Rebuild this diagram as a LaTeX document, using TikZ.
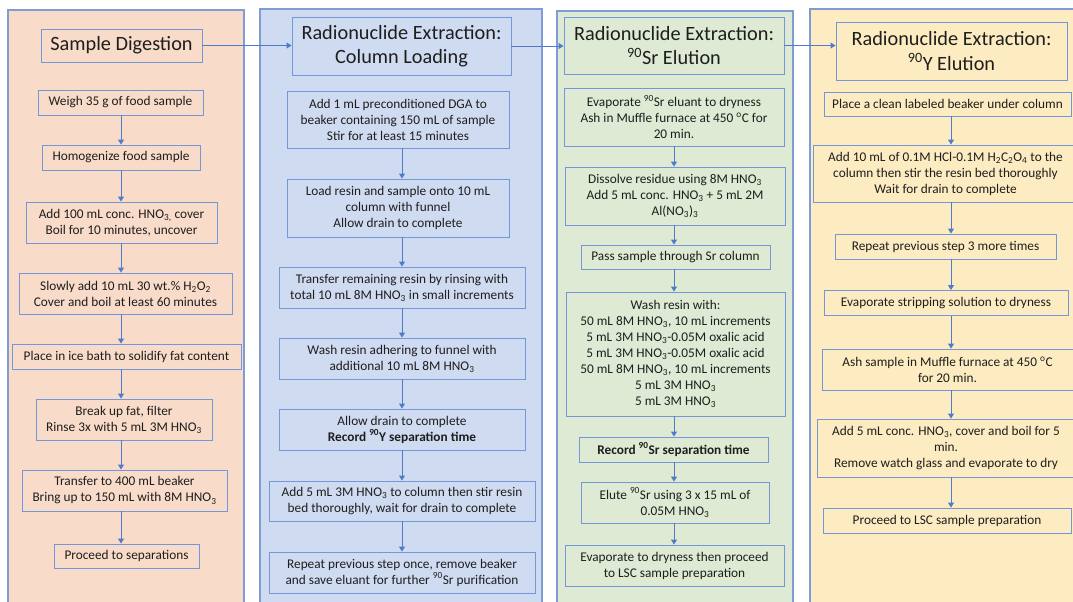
\documentclass[tikz,border=0pt]{standalone}
\usepackage{fontspec}
\setmainfont{Carlito}
\usepackage{tikz}
\usetikzlibrary{arrows.meta}

\definecolor{peach}{HTML}{F9DBC9}
\definecolor{lavender}{HTML}{CFDBF0}
\definecolor{sage}{HTML}{DEEAD3}
\definecolor{cream}{HTML}{FDECC1}
\definecolor{laneline}{HTML}{7F9CD4}
\definecolor{boxline}{HTML}{7397D8}
\definecolor{arrowline}{HTML}{4F7BCB}
\definecolor{ink}{HTML}{1E1E1E}

\tikzset{sz/.style 2 args={minimum width=#1pt, minimum height=#2pt}}

\newcommand{\HNO}{HNO\textsubscript{3}}
\newcommand{\degC}{\textsuperscript{o}C}

\begin{document}
\begin{tikzpicture}[
    x=1pt, y=-1pt,
    lane/.style={draw=laneline, line width=1.3pt},
    box/.style={draw=boxline, line width=0.9pt, align=center, inner sep=1pt,
        text=ink, font=\fontsize{13.3}{16}\selectfont},
    head/.style={box, font=\fontsize{20.3}{24.5}\selectfont},
    flow/.style={draw=arrowline, line width=0.9pt, -{Triangle[length=5pt,width=6pt]}}
]
\useasboundingbox (0,0) rectangle (1073,602);
\clip (0,0) rectangle (1073,602);

% lanes
\filldraw[lane, fill=peach] (8,10) rectangle (244,615);
\filldraw[lane, fill=lavender] (260,9) rectangle (542,615);
\filldraw[lane, fill=sage] (557,11) rectangle (793,615);
\filldraw[lane, fill=cream] (810,9) rectangle (1085,615);

% arrow axes
\coordinate (ax1) at (121,0);
\coordinate (ax2) at (402,0);
\coordinate (ax3) at (674,0);
\coordinate (ax4) at (951,0);

% sample digestion
\node[head, sz={161}{33}] (dig) at (121.5,45.5) {Sample Digestion};
\node[box, sz={165}{25}] (weigh) at (120.5,102.5) {Weigh 35 g of food sample};
\node[box, sz={158}{25}] (homog) at (121,157.5) {Homogenize food sample};
\node[box, sz={191}{41}] (acid) at (121.5,222.5) {Add 100 mL conc. HNO\textsubscript{3,} cover\\Boil for 10 minutes, uncover};
\node[box, sz={213}{41}] (perox) at (125.5,293.5) {Slowly add 10 mL 30 wt.\% H\textsubscript{2}O\textsubscript{2}\\Cover and boil at least 60 minutes};
\node[box, sz={229}{25}] (ice) at (126.5,356.5) {Place in ice bath to solidify fat content};
\node[box, sz={176}{41}] (fat) at (124,419.5) {Break up fat, filter\\Rinse 3x with 5 mL 3M \HNO};
\node[box, sz={205}{41}] (xfer) at (124.5,490.5) {Transfer to 400 mL beaker\\Bring up to 150 mL with 8M \HNO};
\node[box, sz={145}{24}] (sep) at (126.5,556) {Proceed to separations};

% column loading
\node[head, sz={219}{58}] (load) at (401.5,46) {Radionuclide Extraction:\\Column Loading};
\node[box, sz={222}{57}] (dga) at (398,119.5) {Add 1 mL preconditioned DGA to\\beaker containing 150 mL of sample\\Stir for at least 15 minutes};
\node[box, sz={222}{58}] (onto) at (398,208) {Load resin and sample onto 10 mL\\column with funnel\\Allow drain to complete};
\node[box, sz={246}{41}] (rinse) at (402,287.5) {Transfer remaining resin by rinsing with\\total 10 mL 8M \HNO{} in small increments};
\node[box, sz={246}{41}] (wash) at (402,358.5) {Wash resin adhering to funnel with\\additional 10 mL 8M \HNO};
\node[box, sz={246}{41}] (drainy) at (402,429.5) {Allow drain to complete\\\textbf{Record \textsuperscript{90}Y separation time}};
\node[box, sz={266}{40}] (stir) at (402,501) {Add 5 mL 3M \HNO{} to column then stir resin\\bed thoroughly, wait for drain to complete};
\node[box, sz={266}{41}] (again) at (402,572.5) {Repeat previous step once, remove beaker\\and save eluant for further \textsuperscript{90}Sr purification};

% Sr elution
\node[head, sz={220}{57}] (srt) at (674,45.5) {Radionuclide Extraction:\\\textsuperscript{90}Sr Elution};
\node[box, sz={220}{58}] (evap) at (674,117) {Evaporate \textsuperscript{90}Sr eluant to dryness\\Ash in Muffle furnace at 450 \degC{} for\\20 min.};
\node[box, sz={220}{58}] (dissolve) at (675,196) {Dissolve residue using 8M \HNO\\Add 5 mL conc. \HNO{} + 5 mL 2M\\Al(NO\textsubscript{3})\textsubscript{3}};
\node[box, sz={189}{24}] (pass) at (675.5,257) {Pass sample through Sr column};
\node[box, sz={219}{124}] (washsr) at (675.5,354) {Wash resin with:\\50 mL 8M \HNO, 10 mL increments\\5 mL 3M \HNO-0.05M oxalic acid\\5 mL 3M \HNO-0.05M oxalic acid\\50 mL 8M \HNO, 10 mL increments\\5 mL 3M \HNO\\5 mL 3M \HNO};
\node[box, sz={189}{25}] (recsr) at (673.5,449.5) {\textbf{Record \textsuperscript{90}Sr separation time}};
\node[box, sz={188}{41}] (elute) at (675,502.5) {Elute \textsuperscript{90}Sr using 3 x 15 mL of\\0.05M \HNO};
\node[box, sz={219}{41}] (lscsr) at (674.5,565.5) {Evaporate to dryness then proceed\\to LSC sample preparation};

% Y elution
\node[head, sz={231}{58}] (yt) at (951.5,51) {Radionuclide Extraction:\\\textsuperscript{90}Y Elution};
\node[box, sz={247}{24}] (beaker) at (947.5,104) {Place a clean labeled beaker under column};
\node[box, sz={265}{57}] (oxal) at (945.5,173.5) {Add 10 mL of 0.1M HCl-0.1M H\textsubscript{2}C\textsubscript{2}O\textsubscript{4} to the\\column then stir the resin bed thoroughly\\Wait for drain to complete};
\node[box, sz={221}{25}] (rep3) at (945.5,246.5) {Repeat previous step 3 more times};
\node[box, sz={244}{25}] (strip) at (946,303) {Evaporate stripping solution to dryness};
\node[box, sz={251}{41}] (ash) at (947.5,369.5) {Ash sample in Muffle furnace at 450 \degC\\for 20 min.};
\node[box, sz={258}{58}] (boil) at (946,448) {Add 5 mL conc. HNO\textsubscript{3}, cover and boil for 5\\min.\\Remove watch glass and evaporate to dry};
\node[box, sz={248}{25}] (lscy) at (947,520.5) {Proceed to LSC sample preparation};

% links between stages
\draw[flow] (dig.east) -- (dig.east -| load.west);
\draw[flow] (load.east) -- (load.east -| srt.west);
\draw[flow] (srt.east) -- (srt.east -| yt.west);

% steps
\draw[flow] (weigh.south -| ax1) -- (homog.north -| ax1);
\draw[flow] (homog.south -| ax1) -- (acid.north -| ax1);
\draw[flow] (acid.south -| ax1) -- (perox.north -| ax1);
\draw[flow] (perox.south -| ax1) -- (ice.north -| ax1);
\draw[flow] (ice.south -| ax1) -- (fat.north -| ax1);
\draw[flow] (fat.south -| ax1) -- (xfer.north -| ax1);
\draw[flow] (xfer.south -| ax1) -- (sep.north -| ax1);

\draw[flow] (dga.south -| ax2) -- (onto.north -| ax2);
\draw[flow] (onto.south -| ax2) -- (rinse.north -| ax2);
\draw[flow] (rinse.south -| ax2) -- (wash.north -| ax2);
\draw[flow] (wash.south -| ax2) -- (drainy.north -| ax2);
\draw[flow] (drainy.south -| ax2) -- (stir.north -| ax2);
\draw[flow] (stir.south -| ax2) -- (again.north -| ax2);

\draw[flow] (evap.south -| ax3) -- (dissolve.north -| ax3);
\draw[flow] (dissolve.south -| ax3) -- (pass.north -| ax3);
\draw[flow] (pass.south -| ax3) -- (washsr.north -| ax3);
\draw[flow] (washsr.south -| ax3) -- (recsr.north -| ax3);
\draw[flow] (recsr.south -| ax3) -- (elute.north -| ax3);
\draw[flow] (elute.south -| ax3) -- (lscsr.north -| ax3);

\draw[flow] (beaker.south -| ax4) -- (oxal.north -| ax4);
\draw[flow] (oxal.south -| ax4) -- (rep3.north -| ax4);
\draw[flow] (rep3.south -| ax4) -- (strip.north -| ax4);
\draw[flow] (strip.south -| ax4) -- (ash.north -| ax4);
\draw[flow] (ash.south -| ax4) -- (boil.north -| ax4);
\draw[flow] (boil.south -| ax4) -- (lscy.north -| ax4);
\end{tikzpicture}
\end{document}
